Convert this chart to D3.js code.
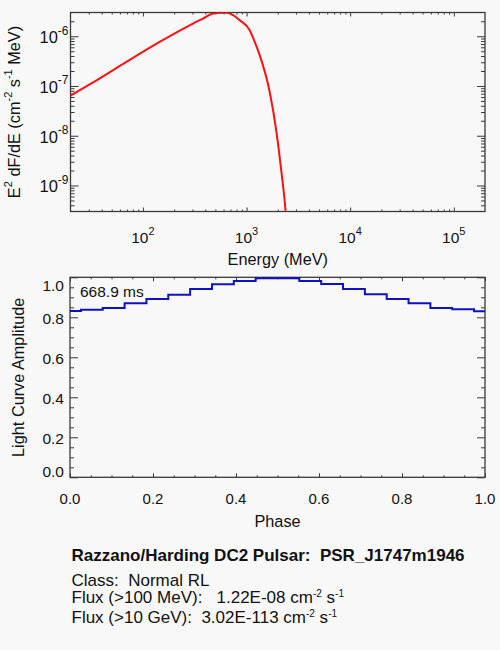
<!DOCTYPE html>
<html><head><meta charset="utf-8">
<script src="https://cdn.jsdelivr.net/npm/d3@7/dist/d3.min.js"></script>
<style>
html,body{margin:0;padding:0;background:#f8f8f8;}
svg{display:block;font-family:"Liberation Sans",Arial,Helvetica,sans-serif;}
</style></head>
<body>
<svg id="c" width="500" height="650"></svg>
<script>
// ---- data ----
const specEnergy = [20,33,69.3,145,304,380,474,560,650,740,859,1072,1199,1339,1671,1941,2168,2384,2600];
const specFlux   = [6.37e-8,1.18e-7,3.06e-7,7.71e-7,1.80e-6,2.27e-6,2.86e-6,2.97e-6,2.95e-6,2.65e-6,2.10e-6,1.32e-6,7.7e-7,4.17e-7,7.65e-8,1.21e-8,1.90e-9,3.0e-10,2e-11];
const lcPhase = d3.range(20).map(k => k/19);
const lcAmp = [0.832,0.838,0.847,0.870,0.892,0.913,0.942,0.965,0.982,0.995,0.995,0.982,0.967,0.942,0.915,0.892,0.870,0.847,0.840,0.830];
const eMajor = [1e2,1e3,1e4,1e5];
const fMajor = [1e-9,1e-8,1e-7,1e-6];
const phaseTicks = [0,0.2,0.4,0.6,0.8,1.0];
const ampTicks = [0,0.2,0.4,0.6,0.8,1.0];
const periodLabel = "668.9 ms";
const titleText = "Razzano/Harding DC2 Pulsar:  PSR_J1747m1946";
const classText = "Class:  Normal RL";
const fluxLabels = ["Flux (>100 MeV):   ", "Flux (>10 GeV):  "];
const fluxValues = ["1.22E-08", "3.02E-113"];

const svg = d3.select("#c");
const AX = "#3a3a3a", TXT = "#111";

// ---- top panel ----
const T = {l:70.5, r:485, t:12.5, b:211.5};
const x1 = d3.scaleLog().domain([20, 2e5]).range([T.l, T.r]);
const y1 = d3.scaleLog().domain([3e-10, 3e-6]).range([T.b, T.t]);

function logMinors(domain){
  const out=[];
  for(let e=-12;e<=6;e++){ for(let m=2;m<=9;m++){ const v=m*Math.pow(10,e); if(v>domain[0]&&v<domain[1]) out.push(v);} }
  return out;
}
const eMinor = logMinors([20,2e5]);
const fMinor = logMinors([3e-10,3e-6]);

function drawTicks(g, axisFn, scale, vals, size, pos){
  g.append("g").attr("transform", pos)
   .call(axisFn(scale).tickValues(vals).tickSize(-size).tickFormat(""))
   .call(s=>{s.select(".domain").remove(); s.selectAll("line").attr("stroke",AX).attr("stroke-width",1);});
}
const gt = svg.append("g");
drawTicks(gt, d3.axisBottom, x1, eMajor, 4, `translate(0,${T.b})`);
drawTicks(gt, d3.axisBottom, x1, eMinor, 2, `translate(0,${T.b})`);
drawTicks(gt, d3.axisTop, x1, eMajor, 4, `translate(0,${T.t})`);
drawTicks(gt, d3.axisTop, x1, eMinor, 2, `translate(0,${T.t})`);
drawTicks(gt, d3.axisLeft, y1, fMajor, 8, `translate(${T.l},0)`);
drawTicks(gt, d3.axisLeft, y1, fMinor, 4, `translate(${T.l},0)`);
drawTicks(gt, d3.axisRight, y1, fMajor, 8, `translate(${T.r},0)`);
drawTicks(gt, d3.axisRight, y1, fMinor, 4, `translate(${T.r},0)`);

svg.append("clipPath").attr("id","clipT").append("rect")
  .attr("x",T.l).attr("y",T.t).attr("width",T.r-T.l).attr("height",T.b-T.t);
const line1 = d3.line().x((d,i)=>x1(specEnergy[i])).y((d,i)=>y1(specFlux[i])).curve(d3.curveMonotoneX);
svg.append("path").datum(specFlux).attr("d", line1).attr("clip-path","url(#clipT)")
  .attr("fill","none").attr("stroke","#ff1010").attr("stroke-width",2);

gt.append("rect").attr("x",T.l).attr("y",T.t).attr("width",T.r-T.l).attr("height",T.b-T.t)
  .attr("fill","none").attr("stroke",AX).attr("stroke-width",1.3);

// tick labels with superscripts
eMajor.forEach(v=>{
  const t = svg.append("text").attr("x",x1(v)).attr("y",242.7).attr("text-anchor","middle")
    .attr("font-size",15.5).attr("fill",TXT);
  t.append("tspan").text("10");
  t.append("tspan").attr("font-size",11).attr("dy",-8).text(Math.round(Math.log10(v)));
});
fMajor.forEach(v=>{
  const t = svg.append("text").attr("x",68.5).attr("y",y1(v)+7).attr("text-anchor","end")
    .attr("font-size",16.5).attr("fill",TXT);
  t.append("tspan").text("10");
  t.append("tspan").attr("font-size",12).attr("dy",-8.5).text(Math.round(Math.log10(v)));
});
svg.append("text").attr("x",(T.l+T.r)/2).attr("y",265).attr("text-anchor","middle")
  .attr("font-size",16.3).attr("fill",TXT).text("Energy (MeV)");
{
  const t = svg.append("text").attr("transform",`translate(19.5,${(T.t+T.b)/2}) rotate(-90)`)
    .attr("text-anchor","middle").attr("font-size",16.3).attr("fill",TXT);
  t.append("tspan").text("E");
  t.append("tspan").attr("font-size",11).attr("dy",-8).text("2");
  t.append("tspan").attr("dy",8).text(" dF/dE (cm");
  t.append("tspan").attr("font-size",11).attr("dy",-8).text("-2");
  t.append("tspan").attr("dy",8).text(" s");
  t.append("tspan").attr("font-size",11).attr("dy",-8).text("-1");
  t.append("tspan").attr("dy",8).text(" MeV)");
}

// ---- bottom panel ----
const B = {l:70, r:485, t:277.3, b:477.3};
const x2 = d3.scaleLinear().domain([0,1]).range([B.l,B.r]);
const y2 = d3.scaleLinear().domain([0,1]).range([B.b,B.t]);
const phMinor = d3.range(0,1.0001,0.05).filter(v=>Math.abs(v*5-Math.round(v*5))>1e-6);
const amMinor = phMinor;
const gb = svg.append("g");
drawTicks(gb, d3.axisBottom, x2, phaseTicks, 4, `translate(0,${B.b})`);
drawTicks(gb, d3.axisBottom, x2, phMinor, 2, `translate(0,${B.b})`);
drawTicks(gb, d3.axisTop, x2, phaseTicks, 4, `translate(0,${B.t})`);
drawTicks(gb, d3.axisTop, x2, phMinor, 2, `translate(0,${B.t})`);
drawTicks(gb, d3.axisLeft, y2, ampTicks, 8, `translate(${B.l},0)`);
drawTicks(gb, d3.axisLeft, y2, amMinor, 4, `translate(${B.l},0)`);
drawTicks(gb, d3.axisRight, y2, ampTicks, 8, `translate(${B.r},0)`);
drawTicks(gb, d3.axisRight, y2, amMinor, 4, `translate(${B.r},0)`);

const line2 = d3.line().x((d,i)=>x2(lcPhase[i])).y(d=>y2(d)).curve(d3.curveStep);
svg.append("path").datum(lcAmp).attr("d",line2).attr("fill","none")
  .attr("stroke","#1010c0").attr("stroke-width",2);

gb.append("rect").attr("x",B.l).attr("y",B.t).attr("width",B.r-B.l).attr("height",B.b-B.t)
  .attr("fill","none").attr("stroke",AX).attr("stroke-width",1.3);

phaseTicks.forEach(v=>{
  svg.append("text").attr("x",x2(v)).attr("y",504).attr("text-anchor","middle")
    .attr("font-size",15).attr("fill",TXT).text(v.toFixed(1));
});
ampTicks.forEach(v=>{
  const yy = Math.max(B.t+13.4, Math.min(B.b-0.5, y2(v)+7));
  svg.append("text").attr("x",64).attr("y",yy).attr("text-anchor","end")
    .attr("font-size",15.5).attr("fill",TXT).text(v.toFixed(1));
});
svg.append("text").attr("x",(B.l+B.r)/2).attr("y",526.5).attr("text-anchor","middle")
  .attr("font-size",16.3).attr("fill",TXT).text("Phase");
svg.append("text").attr("transform",`translate(24,${(B.t+B.b)/2}) rotate(-90)`)
  .attr("text-anchor","middle").attr("font-size",16.3).attr("fill",TXT).text("Light Curve Amplitude");
svg.append("text").attr("x",80).attr("y",297).attr("font-size",15.5).attr("fill",TXT).text(periodLabel);

// ---- info text ----
svg.append("text").attr("x",71.5).attr("y",560.7).attr("font-size",17).attr("font-weight","bold")
  .attr("fill",TXT).attr("xml:space","preserve").text(titleText);
svg.append("text").attr("x",71.5).attr("y",585.7).attr("font-size",17).attr("fill",TXT)
  .attr("xml:space","preserve").text(classText);
const fluxY = [603, 622.5];
fluxLabels.forEach((lab,i)=>{
  const t = svg.append("text").attr("x",71.5).attr("y",fluxY[i]).attr("font-size",17).attr("fill",TXT)
    .attr("xml:space","preserve");
  t.append("tspan").text(lab + fluxValues[i]+" cm");
  t.append("tspan").attr("font-size",10).attr("dy",-6).text("-2");
  t.append("tspan").attr("dy",6).text(" s");
  t.append("tspan").attr("font-size",10).attr("dy",-6).text("-1");
});
</script>
</body></html>
